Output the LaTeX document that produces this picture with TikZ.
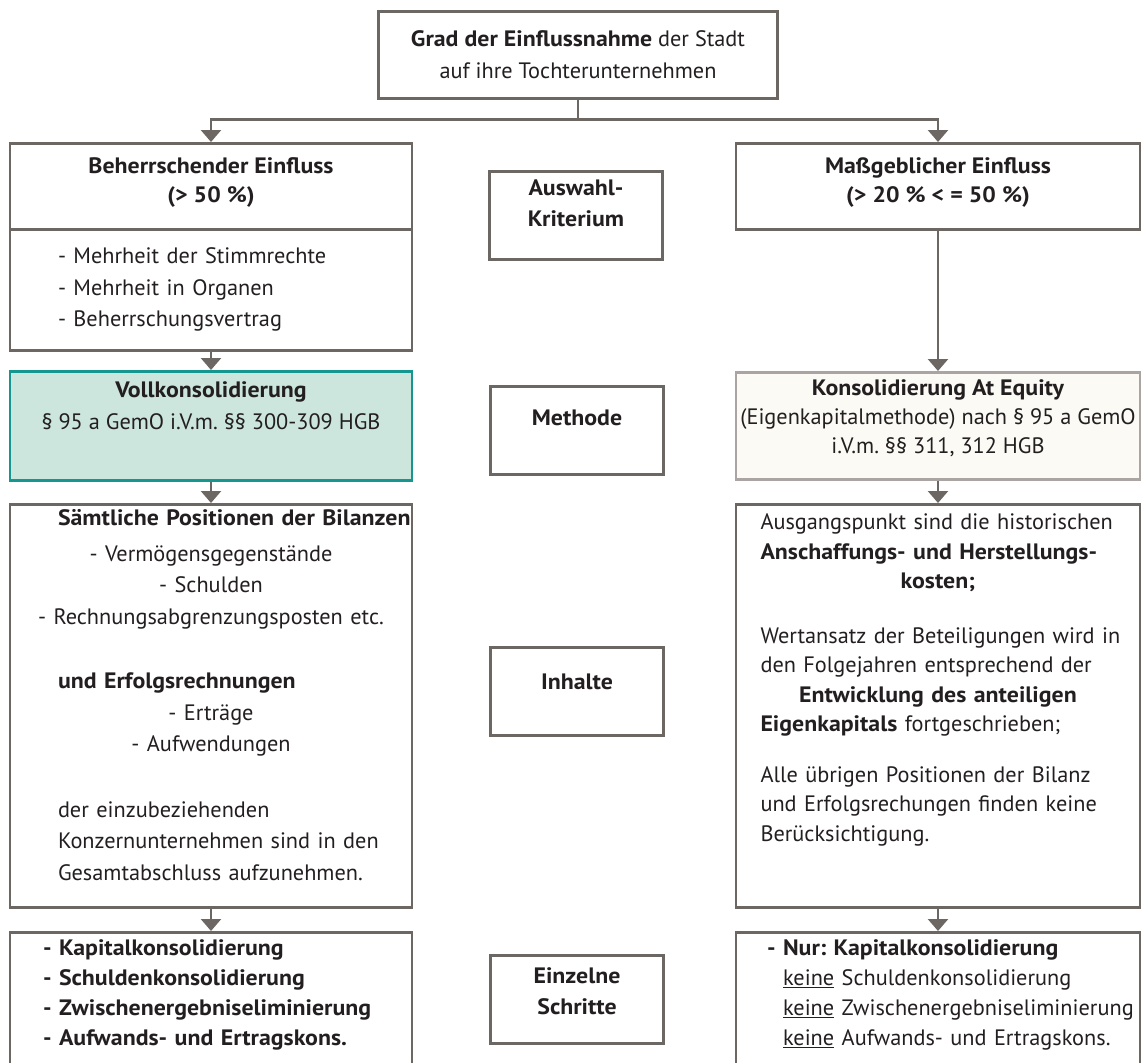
\documentclass[tikz,border=0pt]{standalone}
\usepackage{fontspec}
\setmainfont[BoldFeatures={FakeStretch=1.07}]{PT Sans}
\usetikzlibrary{arrows.meta,positioning}
\definecolor{linegray}{HTML}{6D6764}
\definecolor{txtgray}{HTML}{231F20}
\definecolor{tealfill}{HTML}{CCE6DE}
\definecolor{tealline}{HTML}{15978F}
\definecolor{beigefill}{HTML}{FBFAF5}
\definecolor{beigeline}{HTML}{AAA5A2}
\newcommand{\midline}[1]{\makebox[\hsize][c]{#1}}
\newcommand{\lline}[1]{\makebox[\hsize][l]{#1}}
\newcommand{\shiftup}[1]{\\[#1]\mbox{}}
\frenchspacing

\begin{document}
\begin{tikzpicture}[
  x=1pt, y=-1pt,
  font=\fontsize{22.3}{31.5}\selectfont, text=txtgray,
  box/.style={draw=linegray, line width=2.5pt, inner sep=0pt, align=center, anchor=north},
  colbox/.style={box, minimum width=402pt},
  midbox/.style={box, minimum width=173pt, minimum height=88pt, font=\fontsize{22.3}{31.5}\selectfont\bfseries},
  arr/.style={-{Triangle[width=20pt,length=12pt]}, line width=2.5pt, draw=linegray}
]
\useasboundingbox (0,0) rectangle (1141,1063);

% Kopf
\node[box, minimum width=399pt, minimum height=87pt] (grad) at (578,10)
  {\textbf{Grad der Einflussnahme} der Stadt\\auf ihre Tochterunternehmen};

% linke Spalte
\node[colbox, minimum height=86pt, font=\fontsize{22.3}{29}\selectfont\bfseries] (beherr) at (211,142)
  {Beherrschender Einfluss\\(> 50 \%)\shiftup{-17pt}};
\node[colbox, minimum height=121pt, text width=306pt, align=left] (beherrlist) at (211,228)
  {- Mehrheit der Stimmrechte\\- Mehrheit in Organen\\- Beherrschungsvertrag};
\node[colbox, minimum height=109pt, draw=tealline, fill=tealfill] (voll) at (211,370)
  {\textbf{Vollkonsolidierung}\\§ 95 a GemO i.V.m. §§ 300-309 HGB\shiftup{9pt}};
\node[colbox, minimum height=403pt, text width=306pt, align=left] (inhaltL) at (211,503)
  {\lline{\textbf{Sämtliche Positionen der Bilanzen}}\\[4pt]
   \midline{- Vermögensgegenstände}\\
   \midline{- Schulden}\\
   \midline{- Rechnungsabgrenzungsposten etc.}\\[33pt]
   \lline{\textbf{und Erfolgsrechnungen}}\\
   \midline{- Erträge}\\
   \midline{- Aufwendungen}\\[34pt]
   \lline{der einzubeziehenden}\\
   \lline{Konzernunternehmen sind in den}\\
   \lline{Gesamtabschluss aufzunehmen.}\shiftup{-9.5pt}};
\node[colbox, minimum height=150pt, text width=336pt, align=left, font=\fontsize{22.3}{30}\selectfont\bfseries] (schritteL) at (211,931)
  {- Kapitalkonsolidierung\\- Schuldenkonsolidierung\\\lline{- Zwischenergebniseliminierung}\\\lline{- Aufwands- und Ertragskons.}\shiftup{-1pt}};

% rechte Spalte
\node[box, minimum width=404pt, minimum height=86pt, font=\fontsize{22.3}{29}\selectfont\bfseries] (massgeb) at (938,142)
  {Maßgeblicher Einfluss\\(> 20 \% < = 50 \%)\shiftup{-17pt}};
\node[box, minimum width=404pt, minimum height=107pt, draw=beigeline, fill=beigefill, font=\fontsize{22.3}{29}\selectfont] (equity) at (938,371)
  {\textbf{Konsolidierung At Equity}\\(Eigenkapitalmethode) nach § 95 a GemO\\i.V.m. §§ 311, 312 HGB\shiftup{-11pt}};
\node[box, minimum width=404pt, minimum height=403pt, text width=355pt, align=left, font=\fontsize{22.3}{29.5}\selectfont] (inhaltR) at (938,503)
  {\lline{Ausgangspunkt sind die historischen}\\
   \lline{\textbf{Anschaffungs- und Herstellungs-}}\\
   \midline{\textbf{kosten;}}\\[25pt]
   \lline{Wertansatz der Beteiligungen wird in}\\
   \lline{den Folgejahren entsprechend der}\\
   \midline{\textbf{Entwicklung des anteiligen}}\\
   \lline{\textbf{Eigenkapitals} fortgeschrieben;}\\[21pt]
   \lline{Alle übrigen Positionen der Bilanz}\\
   \lline{und Erfolgsrechungen finden keine}\\
   \lline{Berücksichtigung.}\shiftup{27pt}};
\node[box, minimum width=404pt, minimum height=150pt, text width=342pt, align=left, font=\fontsize{22.3}{30}\selectfont] (schritteR) at (938,931)
  {\lline{\textbf{- Nur: Kapitalkonsolidierung}}\\
   \lline{\hphantom{\bfseries - }\underline{keine} Schuldenkonsolidierung}\\
   \lline{\hphantom{\bfseries - }\underline{keine} Zwischenergebniseliminierung}\\
   \lline{\hphantom{\bfseries - }\underline{keine} Aufwands- und Ertragskons.}\shiftup{-1pt}};

% Mitte
\node[midbox] (krit) at (576,170) {Auswahl-\\Kriterium\shiftup{-7pt}};
\node[midbox] (methode) at (577,385) {Methode\shiftup{-7pt}};
\node[midbox] (inhalte) at (577,646) {Inhalte\shiftup{-13pt}};
\node[midbox] (schritte) at (577,954) {Einzelne\\Schritte\shiftup{-15pt}};

% Pfeile
\draw[arr] (grad.south) -- ++(0,20) -| (beherr.north);
\draw[arr] (grad.south) -- ++(0,20) -| (massgeb.north);
\draw[arr] (beherrlist.south) -- (voll.north);
\draw[arr] (massgeb.south) -- (equity.north);
\draw[arr] (voll.south) -- (inhaltL.north);
\draw[arr] (equity.south) -- (inhaltR.north);
\draw[arr] (inhaltL.south) -- (schritteL.north);
\draw[arr] (inhaltR.south) -- (schritteR.north);
\end{tikzpicture}
\end{document}
